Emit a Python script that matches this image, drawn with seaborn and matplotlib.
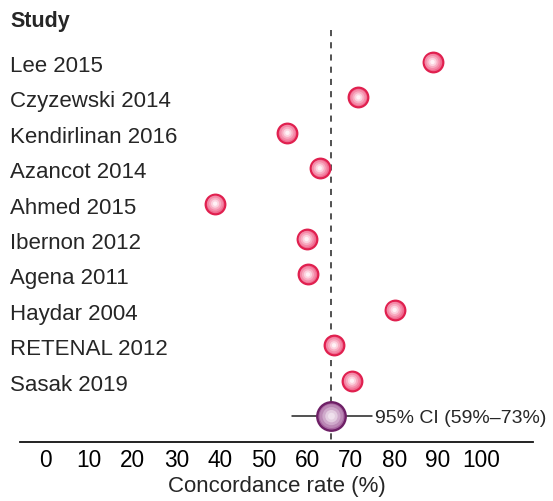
import matplotlib
matplotlib.use("Agg")
from matplotlib import pyplot as plt
import numpy as np
import pandas
import seaborn

studies = ["Lee 2015", "Czyzewski 2014", "Kendirlinan 2016", "Azancot 2014", "Ahmed 2015",
           "Ibernon 2012", "Agena 2011", "Haydar 2004", "RETENAL 2012", "Sasak 2019"]
rates = [88.8, 71.8, 55.5, 62.9, 38.9, 59.9, 60.2, 80.1, 66.2, 70.3]
pooled_est = 65.6
pooled_lo = 56.5
pooled_hi = 74.8
pooled_label = "95% CI (59%\u201373%)"
ticks = list(range(0, 101, 10))

seaborn.set_style("white")
plt.rcParams['font.family'] = ['Liberation Sans', 'DejaVu Sans']

df = pandas.DataFrame({'study': studies, 'rate': rates, 'row': np.arange(len(studies))})
pooled_row = len(studies)

fig = plt.figure(figsize=(5.53, 5.01), dpi=100)
ax = fig.add_axes([0, 59 / 501, 1, 442 / 501])
ax.set_xlim(-10.49, 116.46)
ax.set_ylim(10.73, -1.75)

# dashed reference line at pooled estimate
ax.plot([pooled_est, pooled_est], [-0.9, 10.73], color='#222222', lw=1.1,
        dashes=(4, 4), zorder=1)

# pooled CI
ax.plot([pooled_lo, pooled_hi], [pooled_row, pooled_row], color='#222222', lw=1.1, zorder=2)

# study points: layered for a shaded look
layers = [(200, '#f06a8f', '#e0204f', 1.6), (130, '#f48aa8', 'none', 0), (75, '#f8adc2', 'none', 0),
          (35, '#fcd3df', 'none', 0), (10, '#fff2f6', 'none', 0)]
for size, face, edge, lw in layers:
    seaborn.scatterplot(data=df, x='rate', y='row', s=size, color=face, edgecolor=edge,
                        linewidth=lw, ax=ax, zorder=3, legend=False)

pdf = pandas.DataFrame({'rate': [pooled_est], 'row': [pooled_row]})
players = [(420, '#a766a0', '#6e1f66', 1.7), (290, '#bb88b5', 'none', 0), (170, '#cfa9cb', 'none', 0),
           (80, '#e3cce0', 'none', 0), (25, '#efe0ed', 'none', 0)]
for size, face, edge, lw in players:
    seaborn.scatterplot(data=pdf, x='rate', y='row', s=size, color=face, edgecolor=edge,
                        linewidth=lw, ax=ax, zorder=4, legend=False)

ax.text(pooled_hi + 0.8, pooled_row + 0.2, pooled_label, fontsize=14, va='baseline', ha='left')

# study labels
ax.text(-8.2, -1.0, "Study", fontsize=15.5, fontweight='bold', va='baseline', ha='left')
for s, r in zip(studies, df['row']):
    ax.text(-8.2, r + 0.28, s, fontsize=16, va='baseline', ha='left')

for sp in ['top', 'right', 'left']:
    ax.spines[sp].set_visible(False)
ax.spines['bottom'].set_bounds(-5.9, 111.9)
ax.spines['bottom'].set_linewidth(1.3)
ax.spines['bottom'].set_color('#111111')
ax.set_yticks([])
ax.set_xticks(ticks)
ax.set_xticklabels([str(t) for t in ticks], fontsize=16.3)
ax.tick_params(axis='x', direction='in', length=6, width=1.1, pad=5, colors='#111111', labelcolor='black')
ax.set_xlabel("Concordance rate (%)", fontsize=16, labelpad=3)
ax.set_ylabel("")
ax.patch.set_alpha(0)

fig.savefig("out.png", dpi=100)
